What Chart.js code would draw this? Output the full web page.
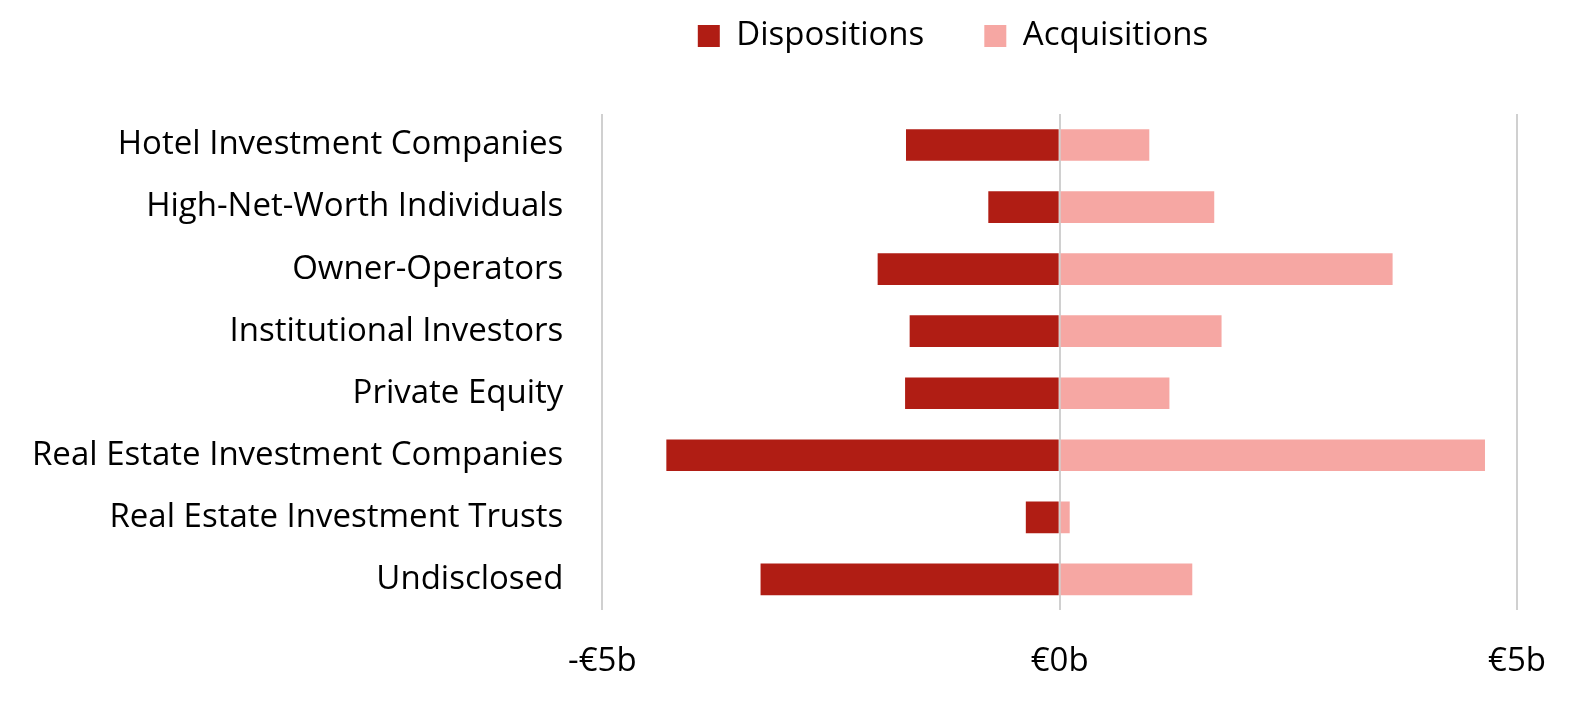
<!DOCTYPE html>
<html lang="en">
<head>
  <meta charset="UTF-8" />
  <title>Buyers and Sellers</title>
  <script src="https://cdn.jsdelivr.net/npm/chart.js"></script>
  <style>
    body { margin: 0; background: #fff; }
    #wrap { width: 1584px; height: 707px; position: relative; }
  </style>
</head>
<body>
  <div id="wrap"><canvas id="chart"></canvas></div>

  <script>
    const categories = [
      "Hotel Investment Companies",
      "High-Net-Worth Individuals",
      "Owner-Operators",
      "Institutional Investors",
      "Private Equity",
      "Real Estate Investment Companies",
      "Real Estate Investment Trusts",
      "Undisclosed"
    ];
    // € billions
    const dispositions = [-1.68, -0.78, -1.99, -1.64, -1.69, -4.30, -0.37, -3.27];
    const acquisitions = [0.98, 1.69, 3.64, 1.77, 1.20, 4.65, 0.11, 1.45];
    const tickValues = [-5, 0, 5];
    const tickLabels = ["-€5b", "€0b", "€5b"];

    const FONT = "'Open Sans', sans-serif";
    const SIZE = 33;

    // move legend to where it sits in the original, without touching the plot area
    const legendPlace = {
      id: "legendPlace",
      afterLayout(chart) {
        const lg = chart.legend;
        const dx = 953 - (lg.left + lg.right) / 2;
        lg.left += dx; lg.right += dx;
        const top = 36 - 60 - SIZE / 2;
        lg.bottom = top + lg.height; lg.top = top;
      }
    };

    new Chart(document.getElementById("chart"), {
      type: "bar",
      data: {
        labels: categories,
        datasets: [
          { label: "Dispositions", data: dispositions, backgroundColor: "#B01D14" },
          { label: "Acquisitions", data: acquisitions, backgroundColor: "#F6A7A3" }
        ]
      },
      options: {
        indexAxis: "y",
        responsive: true,
        maintainAspectRatio: false,
        animation: false,
        barPercentage: 0.51,
        categoryPercentage: 1,
        layout: { padding: { top: 11, left: 1, right: 67, bottom: -5 } },
        plugins: {
          tooltip: { enabled: false },
          legend: {
            position: "top",
            labels: {
              boxWidth: 22, boxHeight: 22, padding: 60,
              color: "#000",
              font: { family: FONT, size: SIZE }
            }
          }
        },
        scales: {
          x: {
            stacked: true,
            min: -5, max: 5,
            afterBuildTicks: axis => { axis.ticks = tickValues.map(v => ({ value: v })); },
            grid: { color: "#d0d0d0", lineWidth: 2, drawTicks: false },
            border: { display: false },
            ticks: {
              padding: 31, color: "#000",
              font: { family: FONT, size: SIZE },
              callback: v => tickLabels[tickValues.indexOf(v)]
            }
          },
          y: {
            stacked: true,
            grid: { display: false },
            border: { display: false },
            ticks: {
              padding: 31, color: "#000",
              font: { family: FONT, size: SIZE }
            }
          }
        }
      },
      plugins: [legendPlace]
    });
  </script>
</body>
</html>
